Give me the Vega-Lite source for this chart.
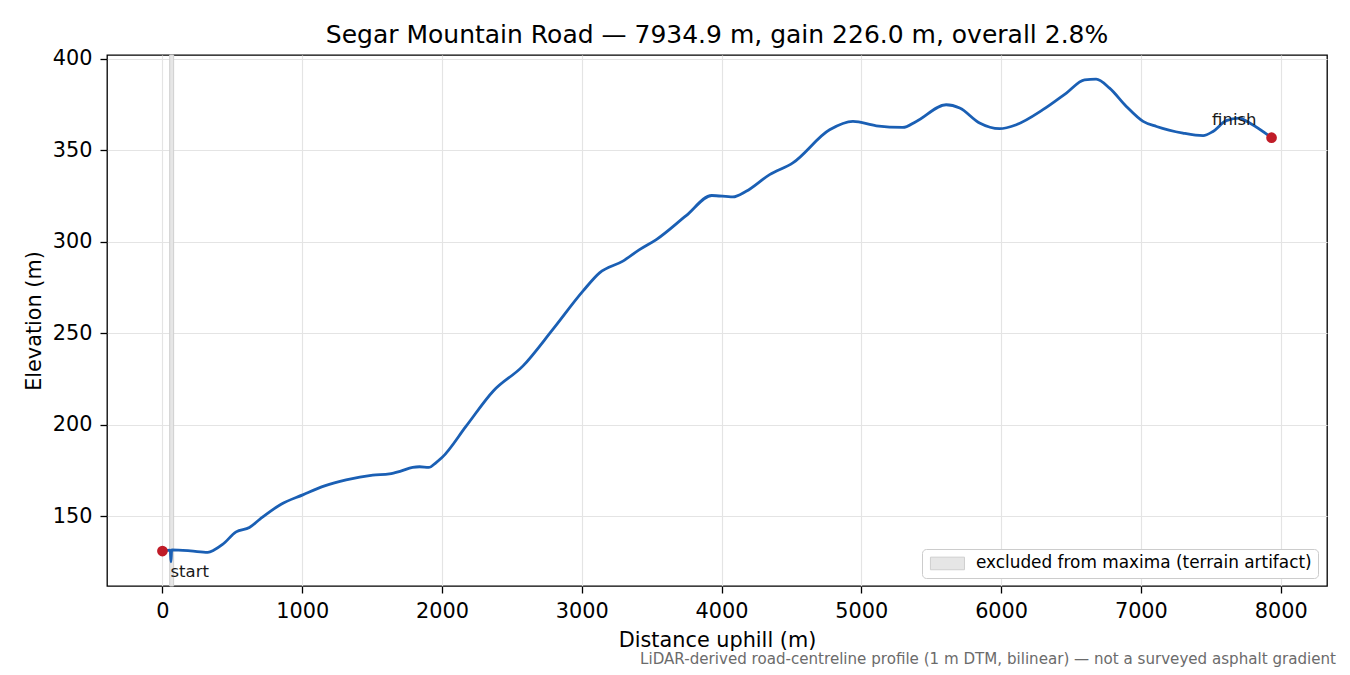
{
  "$schema": "https://vega.github.io/schema/vega-lite/v6.json",
  "width": 1220,
  "height": 531,
  "autosize": {"type": "none"},
  "padding": {"left": 107, "top": 55, "right": 23, "bottom": 89},
  "title": {
    "text": "Segar Mountain Road — 7934.9 m, gain 226.0 m, overall 2.8%",
    "font": "DejaVu Sans",
    "fontSize": 25,
    "fontWeight": "normal",
    "color": "#000000",
    "anchor": "middle",
    "offset": 0
  },
  "datasets": {
    "profile": [
      {"d": 0, "e": 130.9},
      {"d": 56, "e": 131.4},
      {"d": 61, "e": 125.0},
      {"d": 66, "e": 131.5},
      {"d": 200, "e": 131.0},
      {"d": 324, "e": 130.2},
      {"d": 372, "e": 131.6},
      {"d": 430, "e": 134.5},
      {"d": 527, "e": 141.4},
      {"d": 622, "e": 143.8},
      {"d": 700, "e": 148.5},
      {"d": 849, "e": 156.5},
      {"d": 1004, "e": 161.6},
      {"d": 1160, "e": 166.5},
      {"d": 1314, "e": 169.8},
      {"d": 1505, "e": 172.4},
      {"d": 1624, "e": 173.1},
      {"d": 1700, "e": 174.5},
      {"d": 1790, "e": 176.7},
      {"d": 1840, "e": 177.0},
      {"d": 1905, "e": 176.6},
      {"d": 1958, "e": 179.3},
      {"d": 2000, "e": 182.0},
      {"d": 2174, "e": 199.3},
      {"d": 2367, "e": 218.4},
      {"d": 2578, "e": 232.0},
      {"d": 2793, "e": 252.1},
      {"d": 3008, "e": 273.0},
      {"d": 3127, "e": 283.0},
      {"d": 3294, "e": 289.4},
      {"d": 3413, "e": 295.7},
      {"d": 3533, "e": 301.2},
      {"d": 3747, "e": 314.3},
      {"d": 3930, "e": 325.3},
      {"d": 4081, "e": 324.5},
      {"d": 4176, "e": 327.6},
      {"d": 4344, "e": 336.7},
      {"d": 4510, "e": 343.1},
      {"d": 4773, "e": 361.2},
      {"d": 4940, "e": 365.8},
      {"d": 5107, "e": 363.4},
      {"d": 5297, "e": 362.5},
      {"d": 5393, "e": 365.8},
      {"d": 5607, "e": 374.9},
      {"d": 5704, "e": 373.1},
      {"d": 5846, "e": 364.9},
      {"d": 5989, "e": 361.8},
      {"d": 6109, "e": 364.0},
      {"d": 6299, "e": 372.2},
      {"d": 6467, "e": 381.3},
      {"d": 6597, "e": 388.5},
      {"d": 6680, "e": 388.9},
      {"d": 6776, "e": 384.0},
      {"d": 6896, "e": 374.0},
      {"d": 7016, "e": 365.8},
      {"d": 7112, "e": 363.0},
      {"d": 7301, "e": 359.4},
      {"d": 7445, "e": 358.0},
      {"d": 7516, "e": 360.3},
      {"d": 7611, "e": 366.2},
      {"d": 7706, "e": 367.6},
      {"d": 7778, "e": 364.9},
      {"d": 7934.9, "e": 356.9}
    ],
    "ends": [
      {"name": "start", "d": 0, "e": 130.9},
      {"name": "finish", "d": 7934.9, "e": 356.9}
    ],
    "excluded": [
      {"from": 52, "to": 80, "label": "excluded from maxima (terrain artifact)"}
    ],
    "note": [
      {"text": "LiDAR-derived road-centreline profile (1 m DTM, bilinear) — not a surveyed asphalt gradient", "d": 8331.6, "e": 111.8}
    ]
  },
  "encoding": {
    "x": {
      "field": "d",
      "type": "quantitative",
      "scale": {"domain": [-396.7, 8331.6], "nice": false, "zero": false},
      "axis": {"title": "Distance uphill (m)", "values": [0, 1000, 2000, 3000, 4000, 5000, 6000, 7000, 8000], "format": "d", "labelPadding": 8, "titlePadding": 10}
    },
    "y": {
      "field": "e",
      "type": "quantitative",
      "scale": {"domain": [111.8, 402.1], "nice": false, "zero": false},
      "axis": {"title": "Elevation (m)", "values": [150, 200, 250, 300, 350, 400], "format": "d", "labelPadding": 8, "titlePadding": 8}
    }
  },
  "layer": [
    {
      "data": {"name": "excluded"},
      "mark": {"type": "rect", "stroke": "#cfcfcf", "strokeWidth": 1},
      "encoding": {
        "x": {"field": "from", "type": "quantitative"},
        "x2": {"field": "to"},
        "y": null,
        "fill": {
          "field": "label",
          "type": "nominal",
          "scale": {"range": ["#e6e6e6"]},
          "legend": {
            "title": null,
            "orient": "none",
            "legendX": 815,
            "legendY": 494,
            "symbolType": "M-1,-1.05H4.67V1.05H-1Z",
            "symbolSize": 144,
            "symbolStrokeColor": "#cfcfcf",
            "symbolStrokeWidth": 1,
            "labelFont": "DejaVu Sans",
            "labelFontSize": 16.9,
            "labelColor": "#000000",
            "labelLimit": 0,
            "labelOffset": 31,
            "strokeColor": "#cccccc",
            "fillColor": "#ffffff",
            "cornerRadius": 4,
            "padding": 6
          }
        }
      }
    },
    {
      "data": {"name": "profile"},
      "mark": {"type": "line", "color": "#1a5fb4", "strokeWidth": 2.8, "interpolate": "monotone"}
    },
    {
      "data": {"name": "ends"},
      "mark": {"type": "point", "shape": "circle", "filled": true, "opacity": 1, "color": "#c01c28", "size": 115}
    },
    {
      "data": {"name": "ends"},
      "transform": [{"filter": "datum.name === 'start'"}],
      "mark": {"type": "text", "align": "left", "baseline": "middle", "dx": 8, "dy": 21, "font": "DejaVu Sans", "fontSize": 16.5, "color": "#1a1a1a"},
      "encoding": {"text": {"field": "name"}}
    },
    {
      "data": {"name": "ends"},
      "transform": [{"filter": "datum.name === 'finish'"}],
      "mark": {"type": "text", "align": "right", "baseline": "middle", "dx": -15, "dy": -18, "font": "DejaVu Sans", "fontSize": 16.5, "color": "#1a1a1a"},
      "encoding": {"text": {"field": "name"}}
    },
    {
      "data": {"name": "note"},
      "mark": {"type": "text", "align": "right", "baseline": "alphabetic", "dx": 9, "dy": 78, "clip": false, "font": "DejaVu Sans", "fontSize": 15.1, "color": "#6b6b6b"},
      "encoding": {"text": {"field": "text"}}
    }
  ],
  "config": {
    "font": "DejaVu Sans",
    "view": {"stroke": "#000000", "strokeWidth": 1.3},
    "axis": {
      "labelFont": "DejaVu Sans",
      "labelFontSize": 20.8,
      "labelColor": "#000000",
      "titleFont": "DejaVu Sans",
      "titleFontSize": 20.8,
      "titleFontWeight": "normal",
      "titleColor": "#000000",
      "tickColor": "#000000",
      "tickSize": 7,
      "tickWidth": 1.3,
      "domain": false,
      "grid": true,
      "gridColor": "#e4e4e4",
      "gridWidth": 1.2
    }
  }
}
